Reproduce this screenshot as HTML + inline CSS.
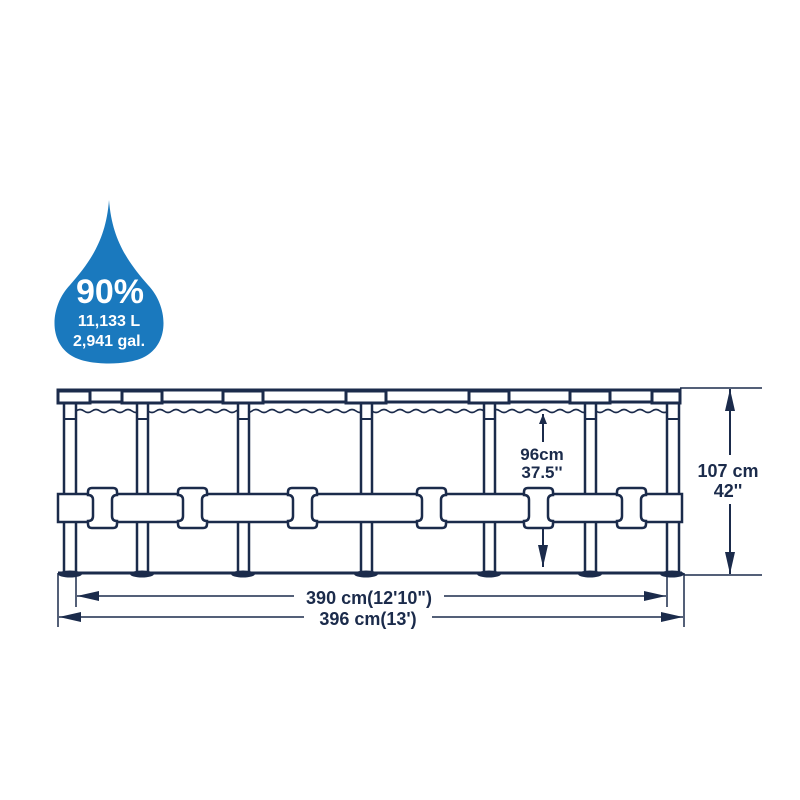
<!DOCTYPE html>
<html><head><meta charset="utf-8"><style>
html,body{margin:0;padding:0;background:#fff;}
svg{display:block}
text{font-family:"Liberation Sans",Arial,sans-serif;font-weight:bold;}
</style></head><body>
<svg width="800" height="800" viewBox="0 0 800 800" xmlns="http://www.w3.org/2000/svg">
<defs>
<marker id="ah" markerWidth="10" markerHeight="8" refX="10" refY="4" orient="auto" markerUnits="userSpaceOnUse">
<path d="M0,0 L10,4 L0,8 Z" fill="#1b2b4b"/></marker>
<marker id="ahl" markerWidth="22" markerHeight="10" refX="22" refY="5" orient="auto" markerUnits="userSpaceOnUse">
<path d="M0,0 L22,5 L0,10 Z" fill="#1b2b4b"/></marker>
<clipPath id="wc"><rect x="76" y="400" width="591" height="20"/></clipPath>
</defs>
<!-- drop -->
<path d="M109,200 C106,240 90,262 70,285 C50,306 48,342 72,356 C88,366 130,366 146,356 C170,342 168,306 148,285 C128,262 112,240 109,200 Z" fill="#1a79be"/>
<text x="110" y="303" font-size="34" fill="#fff" text-anchor="middle">90%</text>
<text x="109" y="326" font-size="16" fill="#fff" text-anchor="middle">11,133 L</text>
<text x="109" y="346" font-size="16" fill="#fff" text-anchor="middle">2,941 gal.</text>

<g stroke="#1b2b4b" fill="none" stroke-width="2.5">
<g clip-path="url(#wc)">
<path d="M76,411 q4,-3 8,0 t8,0 t8,0 t8,0 t8,0 t8,0 t8,0 t8,0 t8,0 t8,0 t8,0 t8,0 t8,0 t8,0 t8,0 t8,0 t8,0 t8,0 t8,0 t8,0 t8,0 t8,0 t8,0 t8,0 t8,0 t8,0 t8,0 t8,0 t8,0 t8,0 t8,0 t8,0 t8,0 t8,0 t8,0 t8,0 t8,0 t8,0 t8,0 t8,0 t8,0 t8,0 t8,0 t8,0 t8,0 t8,0 t8,0 t8,0 t8,0 t8,0 t8,0 t8,0 t8,0 t8,0 t8,0 t8,0 t8,0 t8,0 t8,0 t8,0 t8,0 t8,0 t8,0 t8,0 t8,0 t8,0 t8,0 t8,0 t8,0 t8,0 t8,0 t8,0 t8,0 t8,0 t8,0" stroke-width="1.6"/>
</g>
<rect x="58" y="390" width="622" height="12" stroke-width="3"/>
<g fill="#fff">
<rect x="64" y="402" width="12" height="171"/>
<rect x="137" y="402" width="11" height="171"/>
<rect x="238" y="402" width="11" height="171"/>
<rect x="361" y="402" width="11" height="171"/>
<rect x="484" y="402" width="11" height="171"/>
<rect x="585" y="402" width="11" height="171"/>
<rect x="667" y="402" width="12" height="171"/>
</g>
<path d="M64,419h12M137,419h11M238,419h11M361,419h11M484,419h11M585,419h11M667,419h12" stroke-width="2"/>
<g fill="#fff" stroke-width="3">
<rect x="58" y="391" width="32" height="12"/>
<rect x="122" y="391" width="40" height="12"/>
<rect x="223" y="391" width="40" height="12"/>
<rect x="346" y="391" width="40" height="12"/>
<rect x="469" y="391" width="40" height="12"/>
<rect x="570" y="391" width="40" height="12"/>
<rect x="652" y="391" width="28" height="12"/>
</g>
<line x1="58" y1="573" x2="682" y2="573" stroke-width="3"/>
<rect x="58" y="494" width="624" height="28" fill="#fff" stroke-width="2.5"/>
<g fill="#fff" stroke-width="2.5">
<path id="c" d="M88,492 q0,-4 4,-4 h21 q4,0 4,4 v3 q-5,0 -5,5 v16 q0,5 5,5 v3 q0,4 -4,4 h-21 q-4,0 -4,-4 v-3 q5,0 5,-5 v-16 q0,-5 -5,-5 Z"/>
<use href="#c" x="90"/>
<use href="#c" x="200"/>
<use href="#c" x="329"/>
<use href="#c" x="436"/>
<use href="#c" x="529"/>
</g>
</g>
<g fill="#1b2b4b">
<ellipse cx="70" cy="574" rx="12" ry="3.5"/>
<ellipse cx="142" cy="574" rx="12" ry="3.5"/>
<ellipse cx="243" cy="574" rx="12" ry="3.5"/>
<ellipse cx="366" cy="574" rx="12" ry="3.5"/>
<ellipse cx="489" cy="574" rx="12" ry="3.5"/>
<ellipse cx="590" cy="574" rx="12" ry="3.5"/>
<ellipse cx="672" cy="574" rx="12" ry="3.5"/>
</g>
<g stroke="#1b2b4b" stroke-width="1.5" fill="none">
<line x1="58" y1="573" x2="58" y2="627"/>
<line x1="76" y1="573" x2="76" y2="607"/>
<line x1="667" y1="573" x2="667" y2="607"/>
<line x1="684" y1="573" x2="684" y2="627"/>
<line x1="680" y1="388" x2="762" y2="388"/>
<line x1="684" y1="575" x2="762" y2="575"/>
<line x1="294" y1="596" x2="77" y2="596" marker-end="url(#ahl)"/>
<line x1="444" y1="596" x2="666" y2="596" marker-end="url(#ahl)"/>
<line x1="304" y1="617" x2="59" y2="617" marker-end="url(#ahl)"/>
<line x1="432" y1="617" x2="683" y2="617" marker-end="url(#ahl)"/>
<line x1="730" y1="455" x2="730" y2="389" marker-end="url(#ahl)" stroke-width="2"/>
<line x1="730" y1="504" x2="730" y2="574" marker-end="url(#ahl)" stroke-width="2"/>
<line x1="543" y1="442" x2="543" y2="414" marker-end="url(#ah)" stroke-width="2"/>
<line x1="543" y1="528" x2="543" y2="567" marker-end="url(#ahl)" stroke-width="2"/>
</g>
<g fill="#1b2b4b" text-anchor="middle">
<text x="369" y="604" font-size="18">390 cm(12'10")</text>
<text x="368" y="625" font-size="18">396 cm(13')</text>
<text x="728" y="477" font-size="18">107 cm</text>
<text x="728" y="497" font-size="18">42''</text>
<text x="542" y="460" font-size="17">96cm</text>
<text x="542" y="478" font-size="17">37.5''</text>
</g>
</svg>
</body></html>
